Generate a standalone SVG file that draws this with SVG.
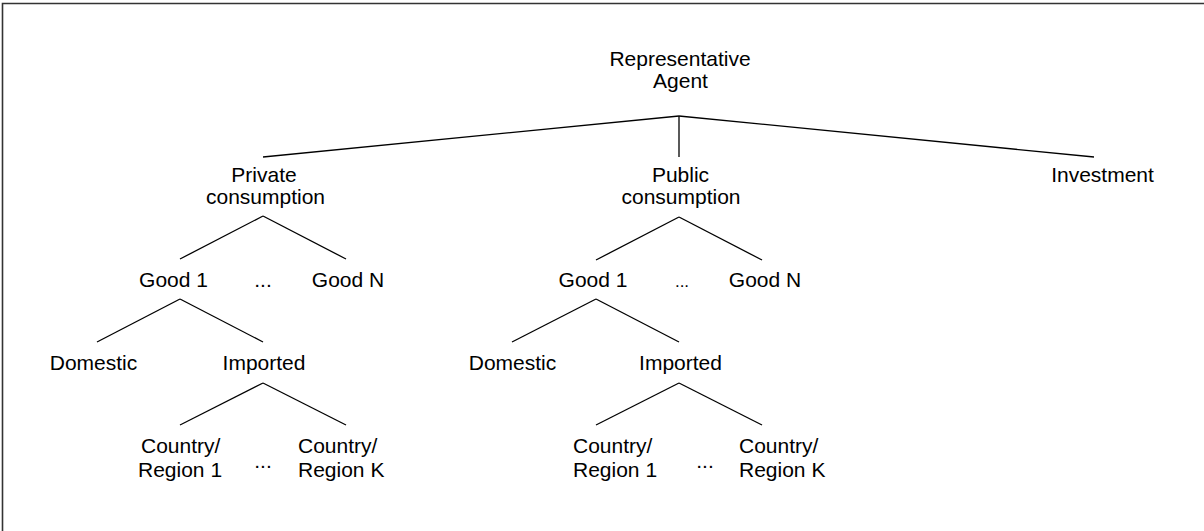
<svg xmlns="http://www.w3.org/2000/svg" width="1204" height="531" viewBox="0 0 1204 531">
<style>
text{font-family:"Liberation Sans",Arial,sans-serif;font-size:21px;fill:#000}
.m{text-anchor:middle}
.s{text-anchor:start}
.c line{stroke:#000;stroke-width:1.3;fill:none}
.frame{stroke:#333;stroke-width:1.6;fill:none}
</style>
<rect width="1204" height="531" fill="#fff"/>
<path class="frame" d="M2.5,531 V3.5 H1204"/>
<g class="c" id="connectors">
<line x1="679" y1="116" x2="263" y2="157"/>
<line x1="679" y1="116" x2="679" y2="157"/>
<line x1="679" y1="116" x2="1094" y2="157"/>
<line x1="263" y1="216" x2="180" y2="259"/>
<line x1="263" y1="216" x2="346" y2="259"/>
<line x1="180" y1="299" x2="97" y2="342"/>
<line x1="180" y1="299" x2="263" y2="342"/>
<line x1="263" y1="383" x2="180" y2="425"/>
<line x1="263" y1="383" x2="346" y2="425"/>
<line x1="679" y1="217" x2="596" y2="260"/>
<line x1="679" y1="217" x2="762" y2="260"/>
<line x1="596" y1="299" x2="512" y2="342"/>
<line x1="596" y1="299" x2="679" y2="342"/>
<line x1="679" y1="383" x2="596" y2="425"/>
<line x1="679" y1="383" x2="762" y2="425"/>
</g>
<g id="root"><text class="m" x="680" y="66">Representative</text><text class="m" x="680.5" y="88">Agent</text></g>
<g id="private"><text class="m" x="264" y="182">Private</text><text class="m" x="265.5" y="204">consumption</text></g>
<g id="public"><text class="m" x="680.5" y="182">Public</text><text class="m" x="681" y="204">consumption</text></g>
<g id="investment"><text class="m" x="1102.5" y="182">Investment</text></g>
<g id="priv-good1"><text class="m" x="173.5" y="287">Good 1</text></g>
<g id="priv-gooddots"><text class="m" x="263" y="287">...</text></g>
<g id="priv-goodN"><text class="m" x="348" y="287">Good N</text></g>
<g id="priv-domestic"><text class="m" x="93.5" y="370">Domestic</text></g>
<g id="priv-imported"><text class="m" x="264" y="370">Imported</text></g>
<g id="priv-region1"><text class="s" x="141" y="453">Country/</text><text class="s" x="138" y="477">Region 1</text></g>
<g id="priv-regiondots"><text class="m" x="263" y="468">...</text></g>
<g id="priv-regionK"><text class="s" x="298" y="453">Country/</text><text class="s" x="298" y="477">Region K</text></g>
<g id="pub-good1"><text class="m" x="593" y="287">Good 1</text></g>
<g id="pub-gooddots"><text class="m" x="682" y="287" style="font-size:17px">...</text></g>
<g id="pub-goodN"><text class="m" x="765" y="287">Good N</text></g>
<g id="pub-domestic"><text class="m" x="512.5" y="370">Domestic</text></g>
<g id="pub-imported"><text class="m" x="680.5" y="370">Imported</text></g>
<g id="pub-region1"><text class="s" x="573" y="453">Country/</text><text class="s" x="573" y="477">Region 1</text></g>
<g id="pub-regiondots"><text class="m" x="705" y="468">...</text></g>
<g id="pub-regionK"><text class="s" x="739" y="453">Country/</text><text class="s" x="739" y="477">Region K</text></g>
</svg>
